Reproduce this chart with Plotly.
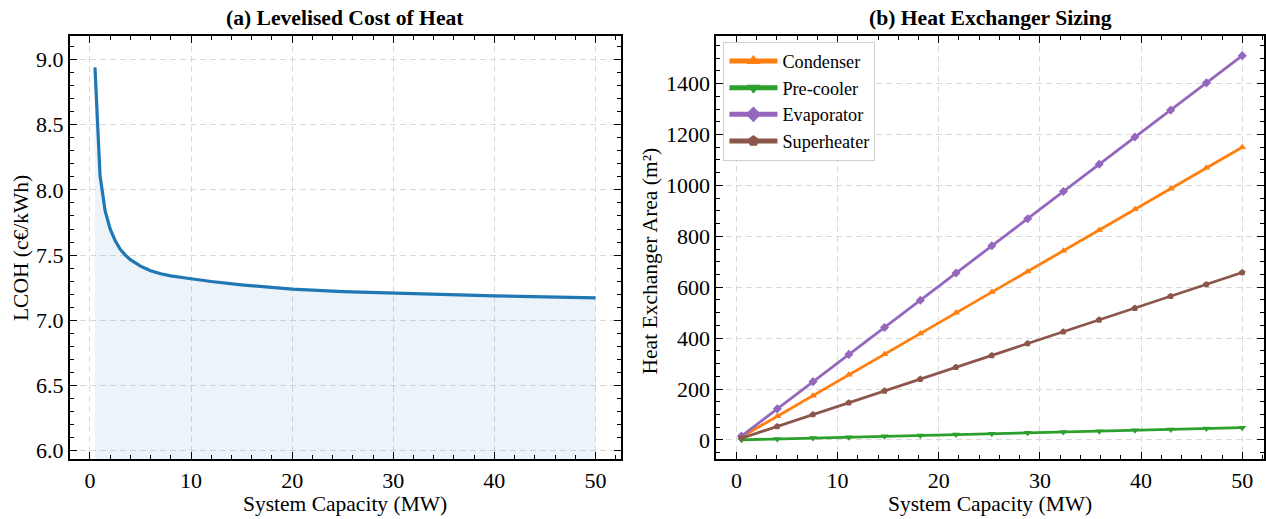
import plotly.graph_objects as go

# ---------------- data ----------------
capacity_lcoh = [0.5, 1.0, 1.5, 2.0, 2.5, 3.0, 3.5, 4.0, 5.0, 6.0, 7.0, 8.0,
                 10, 12, 15, 20, 25, 30, 35, 40, 45, 50]
lcoh = [8.94, 8.11, 7.84, 7.70, 7.61, 7.545, 7.50, 7.465, 7.415, 7.38, 7.357, 7.34,
        7.318, 7.297, 7.272, 7.238, 7.22, 7.207, 7.196, 7.187, 7.179, 7.172]

capacity_hx = [0.5, 4.04, 7.57, 11.11, 14.64, 18.18, 21.71, 25.25, 28.79,
               32.32, 35.86, 39.39, 42.93, 46.46, 50.0]
condenser = [11.5, 93, 174, 256, 337, 418, 500, 581, 662, 743, 825, 906, 987, 1069, 1150]
precooler = [0.5, 3.9, 7.3, 10.7, 14.1, 17.5, 20.9, 24.3, 27.7, 31.1, 34.5, 37.9, 41.3, 44.7, 48]
evaporator = [15, 122, 229, 336, 442, 549, 656, 763, 869, 976, 1083, 1190, 1296, 1403, 1510]
superheater = [6.6, 53, 100, 146, 193, 239, 286, 332, 379, 425, 472, 518, 565, 611, 658]

series_names = ["Condenser", "Pre-cooler", "Evaporator", "Superheater"]
series_values = [condenser, precooler, evaporator, superheater]
series_colors = ["#ff7f0e", "#2ca02c", "#9467bd", "#8c564b"]
series_symbols = ["triangle-up", "triangle-down", "diamond", "pentagon"]

# ---------------- figure ----------------
W, H = 1266, 519
FONT = "Liberation Serif"
fig = go.Figure()

fig.add_trace(go.Scatter(
    x=capacity_lcoh, y=lcoh, mode="lines", fill="tozeroy",
    fillcolor="rgba(31,119,180,0.08)",
    line=dict(color="#1f77b4", width=3.2),
    showlegend=False, xaxis="x", yaxis="y"))

for name, vals, col, sym in zip(series_names, series_values, series_colors, series_symbols):
    fig.add_trace(go.Scatter(
        x=capacity_hx, y=vals, mode="lines+markers", name=name,
        line=dict(color=col, width=2.8),
        marker=dict(symbol=sym, size=7, color=col),
        xaxis="x2", yaxis="y2"))

ydom = [(H - 462.7) / H, (H - 36.7) / H]
common = dict(
    showline=True, linecolor="black", linewidth=2, mirror="allticks",
    ticks="inside", ticklen=7, tickwidth=1.3, tickcolor="black",
    showgrid=True, gridcolor="#d9d9d9", gridwidth=1, griddash="6px,4px",
    zeroline=False,
    tickfont=dict(family=FONT, size=22, color="black"),
)

fig.update_layout(
    width=W, height=H,
    margin=dict(l=0, r=0, t=0, b=0),
    paper_bgcolor="white", plot_bgcolor="white",
    font=dict(family=FONT, color="black"),
    xaxis=dict(domain=[70 / W, 621 / W], range=[-1.975, 52.475], dtick=10, tick0=0,
               minor=dict(ticks="inside", ticklen=4, tickwidth=1.1, dtick=2, tick0=0,
                          tickcolor="black", showgrid=False),
               anchor="y", **common),
    yaxis=dict(domain=ydom, range=[5.934, 9.178], dtick=0.5, tick0=6,
               tickformat=".1f",
               minor=dict(ticks="inside", ticklen=4, tickwidth=1.1, dtick=0.1, tick0=6,
                          tickcolor="black", showgrid=False),
               anchor="x", **common),
    xaxis2=dict(domain=[717 / W, 1265 / W], range=[-1.975, 52.15], dtick=10, tick0=0,
                minor=dict(ticks="inside", ticklen=4, tickwidth=1.1, dtick=2, tick0=0,
                           tickcolor="black", showgrid=False),
                anchor="y2", **common),
    yaxis2=dict(domain=ydom, range=[-75.5, 1585.5], dtick=200, tick0=0,
                minor=dict(ticks="inside", ticklen=4, tickwidth=1.1, dtick=50, tick0=0,
                           tickcolor="black", showgrid=False),
                anchor="x2", **common),
    legend=dict(x=724 / W, y=(H - 42) / H, xanchor="left", yanchor="top",
                bgcolor="rgba(255,255,255,0.85)", bordercolor="#d0d0d0", borderwidth=1,
                font=dict(family=FONT, size=18.2, color="black"),
                itemwidth=48, itemsizing="constant"),
)

annotations = [
    dict(text="<b>(a) Levelised Cost of Heat</b>", x=(70 + 621) / 2 / W, y=(H - 18) / H,
         font=dict(size=21.6)),
    dict(text="<b>(b) Heat Exchanger Sizing</b>", x=(717 + 1265) / 2 / W, y=(H - 18) / H,
         font=dict(size=21.6)),
    dict(text="System Capacity (MW)", x=(70 + 621) / 2 / W, y=(H - 508) / H,
         font=dict(size=21.5)),
    dict(text="System Capacity (MW)", x=(717 + 1265) / 2 / W, y=(H - 508) / H,
         font=dict(size=21.5)),
    dict(text="LCOH (c€/kWh)", x=21 / W, y=(H - 250) / H, textangle=-90,
         font=dict(size=21.5)),
    dict(text="Heat Exchanger Area (m²)", x=650 / W, y=(H - 263) / H, textangle=-90,
         font=dict(size=21.5)),
]
for a in annotations:
    a.update(xref="paper", yref="paper", showarrow=False, xanchor="center", yanchor="middle",
             borderpad=0)
    a["font"].update(family=FONT, color="black")
fig.update_layout(annotations=annotations)

fig.write_html("out.html")
